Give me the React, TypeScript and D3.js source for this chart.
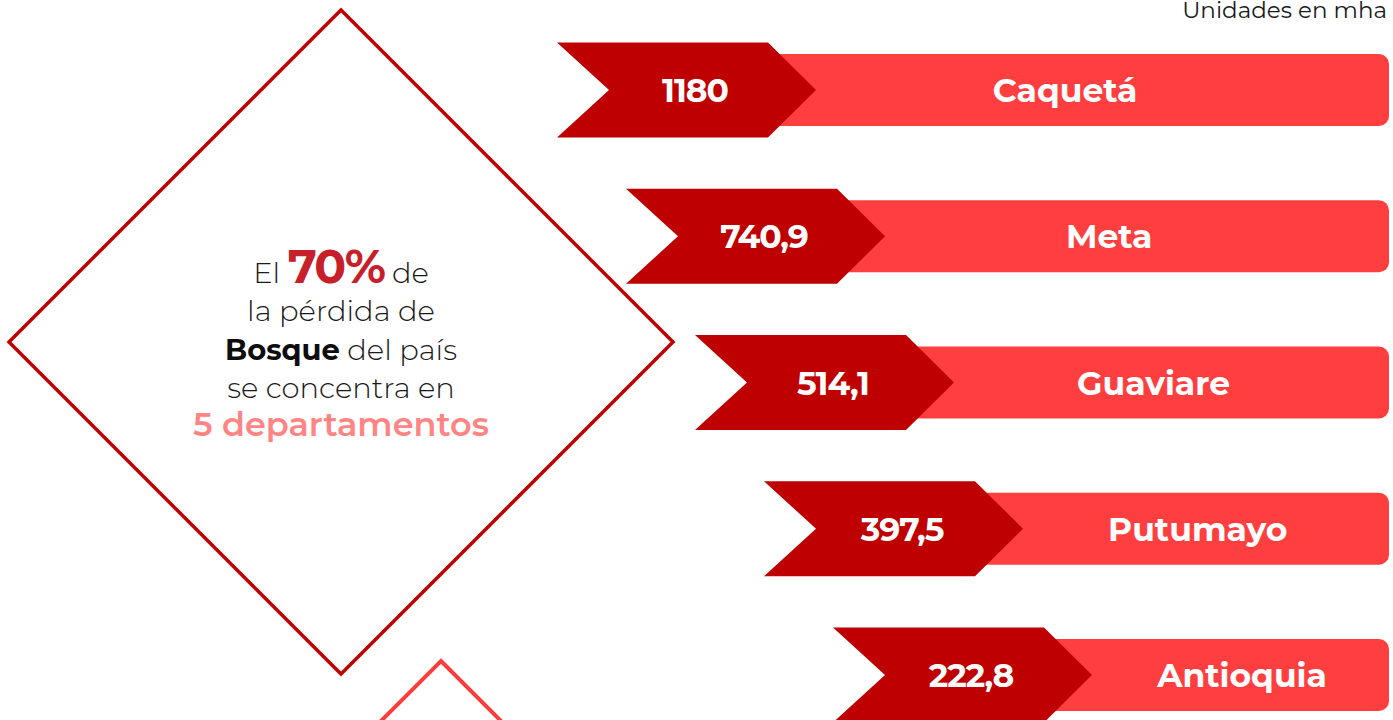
import { useEffect, useRef } from "react";
import * as d3 from "d3";

// Pérdida de bosque por departamento (mha)
const departments = ["Caquetá", "Meta", "Guaviare", "Putumayo", "Antioquia"];
const lossValues = [1180, 740.9, 514.1, 397.5, 222.8];
const unitLabel = "Unidades en mha";

// headline inside the diamond, one entry per line
const headline = [
  [
    { text: "El ", style: "light" },
    { text: "70%", style: "pct" },
    { text: " de", style: "light" },
  ],
  [{ text: "la pérdida de", style: "light" }],
  [
    { text: "Bosque", style: "bold" },
    { text: " del país", style: "light" },
  ],
  [{ text: "se concentra en", style: "light" }],
  [{ text: "5 departamentos", style: "accent" }],
];

const WIDTH = 1393;
const HEIGHT = 720;
const FONT = "Montserrat, Inter, 'DejaVu Sans', sans-serif";
const DARK = "#BF0000";
const LIGHT = "#FF3E3F";

const textStyles = {
  light: { size: 29, weight: 300, fill: "#1a1a1a" },
  pct: { size: 47, weight: 700, fill: "#C8202A" },
  bold: { size: 29, weight: 700, fill: "#0d0d0d" },
  accent: { size: 33.5, weight: 600, fill: "#FF8585" },
};

const esLocale = d3.formatLocale({
  decimal: ",",
  thousands: ".",
  grouping: [3],
  currency: ["$", ""],
});
const fmt = esLocale.format("~f");

const App = () => {
  const svgRef = useRef(null);

  useEffect(() => {
    const svg = d3.select(svgRef.current);
    svg.selectAll("*").remove();

    // Diamonds
    const diamond = (cx, cy, r) =>
      d3.line()([
        [cx, cy - r],
        [cx + r, cy],
        [cx, cy + r],
        [cx - r, cy],
      ]) + "Z";

    svg
      .append("path")
      .attr("d", diamond(341, 342, 332))
      .attr("fill", "none")
      .attr("stroke", DARK)
      .attr("stroke-width", 3.5);

    svg
      .append("path")
      .attr("d", diamond(441, 661 + 332, 332))
      .attr("fill", "none")
      .attr("stroke", LIGHT)
      .attr("stroke-width", 4);

    // Headline text
    const lineY = d3.scalePoint().domain(d3.range(headline.length)).range([283, 436]);
    headline.forEach((segments, i) => {
      const t = svg
        .append("text")
        .attr("x", 341)
        .attr("y", lineY(i))
        .attr("text-anchor", "middle")
        .style("font-family", FONT);
      segments.forEach((seg) => {
        const st = textStyles[seg.style];
        t.append("tspan")
          .attr("font-size", st.size)
          .attr("font-weight", st.weight)
          .attr("fill", st.fill)
          .attr("letter-spacing", seg.style === "pct" ? -1.5 : 0)
          .style("white-space", "pre")
          .text(seg.text);
      });
    });

    // Unit label
    svg
      .append("text")
      .attr("x", 1387)
      .attr("y", 18)
      .attr("text-anchor", "end")
      .style("font-family", FONT)
      .style("font-size", "23px")
      .style("fill", "#1a1a1a")
      .text(unitLabel);

    // Bars
    const data = departments.map((d, i) => ({ name: d, value: lossValues[i] }));
    const yScale = d3.scalePoint().domain(departments).range([90, 675]);
    const xStart = d3.scalePoint().domain(departments).range([557, 833]);
    const labelX = d3.scalePoint().domain(departments).range([1065, 1242]);
    const rightEdge = 1389;
    const chevW = 259;
    const notch = 52;
    const tip = 48;
    const chevH = 95;
    const rectH = 72;

    const rows = svg
      .selectAll(".row")
      .data(data)
      .enter()
      .append("g")
      .attr("class", "row");

    rows
      .append("rect")
      .attr("x", (d) => xStart(d.name) + chevW - tip - 12)
      .attr("y", (d) => yScale(d.name) - rectH / 2)
      .attr("width", (d) => rightEdge - (xStart(d.name) + chevW - tip - 12))
      .attr("height", rectH)
      .attr("rx", 10)
      .attr("fill", LIGHT);

    rows
      .append("path")
      .attr("d", (d) => {
        const x0 = xStart(d.name);
        const cy = yScale(d.name);
        return (
          d3.line()([
            [x0, cy - chevH / 2],
            [x0 + chevW - tip, cy - chevH / 2],
            [x0 + chevW, cy],
            [x0 + chevW - tip, cy + chevH / 2],
            [x0, cy + chevH / 2],
            [x0 + notch, cy],
          ]) + "Z"
        );
      })
      .attr("fill", DARK);

    rows
      .append("text")
      .attr("x", (d) => xStart(d.name) + 138)
      .attr("y", (d) => yScale(d.name) + 12)
      .attr("text-anchor", "middle")
      .style("font-family", FONT)
      .style("font-size", "33px")
      .style("font-weight", 700)
      .style("letter-spacing", "-1px")
      .style("fill", "#fff")
      .text((d) => fmt(d.value));

    rows
      .append("text")
      .attr("x", (d) => labelX(d.name))
      .attr("y", (d) => yScale(d.name) + 12)
      .attr("text-anchor", "middle")
      .style("font-family", FONT)
      .style("font-size", "33px")
      .style("font-weight", 700)
      .style("fill", "#fff")
      .text((d) => d.name);
  }, []);

  return (
    <svg
      ref={svgRef}
      width={WIDTH}
      height={HEIGHT}
      style={{ position: "absolute", left: 0, top: 0, background: "#fff" }}
    />
  );
};

export default App;
